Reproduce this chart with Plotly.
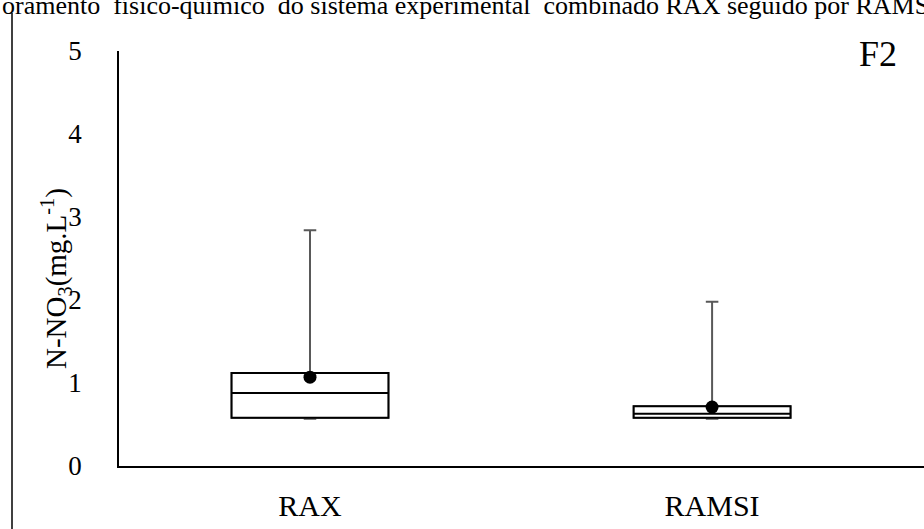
import plotly.graph_objects as go

categories = ["RAX", "RAMSI"]
q1_vals = [0.58, 0.58]
median_vals = [0.88, 0.63]
q3_vals = [1.12, 0.72]
min_vals = [0.57, 0.57]
max_vals = [2.84, 1.98]
mean_vals = [1.07, 0.71]
y_ticks = [0, 1, 2, 3, 4, 5]

FONT = "'Liberation Serif', 'Times New Roman', 'DejaVu Serif', serif"

fig = go.Figure()

# whiskers (grey) drawn as a box trace underneath
fig.add_trace(go.Box(
    x=categories, q1=q1_vals, median=q1_vals, q3=q3_vals,
    lowerfence=min_vals, upperfence=max_vals,
    width=0.39, whiskerwidth=0.08,
    line=dict(color="#595959", width=2),
    fillcolor="rgba(0,0,0,0)", boxpoints=False, hoverinfo="skip",
    showlegend=False,
))
# boxes (black outline)
fig.add_trace(go.Box(
    x=categories, q1=q1_vals, median=median_vals, q3=q3_vals,
    lowerfence=q1_vals, upperfence=q3_vals,
    width=0.39, whiskerwidth=0,
    line=dict(color="black", width=2),
    fillcolor="white", boxpoints=False, showlegend=False,
))
# means
fig.add_trace(go.Scatter(
    x=categories, y=mean_vals, mode="markers",
    marker=dict(color="black", size=13), showlegend=False,
))

L, T, B = 119, 51, 63
W, H = 924, 529
pw, ph = W - L, H - T - B

def px(x):
    return (x - L) / pw

def py(y):
    return (H - B - y) / ph

fig.update_layout(
    width=W, height=H,
    margin=dict(l=L, r=0, t=T, b=B),
    paper_bgcolor="white", plot_bgcolor="white",
    boxmode="overlay",
    font=dict(family=FONT, color="black", size=26),
    xaxis=dict(
        range=[-0.475, 1.527], showgrid=False, zeroline=False,
        showline=True, linecolor="black", linewidth=2,
        ticks="", ticklabelstandoff=12,
        tickfont=dict(family=FONT, size=30, color="black"),
        fixedrange=True,
    ),
    yaxis=dict(
        range=[0, 5], tickvals=y_ticks, showgrid=False, zeroline=False,
        showline=True, linecolor="black", linewidth=1.5,
        ticks="", ticklabelstandoff=30,
        tickfont=dict(family=FONT, size=27, color="black"),
        fixedrange=True,
    ),
    annotations=[
        dict(text="N-NO<sub>3</sub>(mg.L<sup>-1</sup>)", textangle=-90,
             xref="paper", yref="paper", x=px(56), y=py(278),
             xanchor="center", yanchor="middle", showarrow=False,
             font=dict(family=FONT, size=29, color="black")),
        dict(text="F2", xref="paper", yref="paper", x=px(878), y=py(54),
             xanchor="center", yanchor="middle", showarrow=False,
             font=dict(family=FONT, size=36, color="black")),
        dict(text="oramento  físico-químico  do sistema experimental  combinado RAX seguido por RAMSI",
             xref="paper", yref="paper", x=px(0), y=py(6),
             xanchor="left", yanchor="middle", showarrow=False,
             font=dict(family=FONT, size=26, color="black")),
    ],
    shapes=[
        dict(type="line", xref="paper", yref="paper",
             x0=px(12), x1=px(12), y0=py(529), y1=py(13),
             line=dict(color="black", width=1.5)),
    ],
)

fig.write_html("out.html")
